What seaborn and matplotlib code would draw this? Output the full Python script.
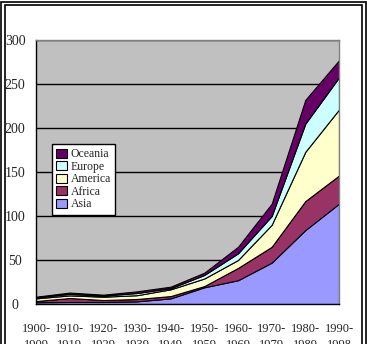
import matplotlib
matplotlib.use("Agg")
import matplotlib.pyplot as plt
import seaborn as sns
import numpy as np
import pandas as pd
from matplotlib.patches import Rectangle, Patch

decades = ["1900-\n1909", "1910-\n1919", "1920-\n1929", "1930-\n1939", "1940-\n1949",
           "1950-\n1959", "1960-\n1969", "1970-\n1979", "1980-\n1989", "1990-\n1998"]
asia = [2, 2.3, 2.3, 3, 6.4, 19, 27, 47, 84, 114]
africa = [1.4, 4.5, 2.2, 2.7, 2.6, 1.4, 14, 18, 33, 32]
america = [3, 3, 3.8, 4.3, 7.7, 8.6, 9, 25, 56, 75]
europe = [1.2, 1.7, 1.2, 2.5, 1.3, 4, 7.6, 10, 32, 36.5]
oceania = [0.7, 1.5, 1.1, 1.9, 1.7, 2.6, 7.4, 14, 27, 19.5]
regions = ["Asia", "Africa", "America", "Europe", "Oceania"]
colors = ["#9999FF", "#993366", "#FFFFCC", "#CCFFFF", "#660066"]
yticks = [0, 50, 100, 150, 200, 250, 300]

df = pd.DataFrame({"decade": decades, "Asia": asia, "Africa": africa,
                   "America": america, "Europe": europe, "Oceania": oceania})

sns.set_theme(style="white")
plt.rcParams["font.family"] = ["Liberation Serif", "DejaVu Serif"]

fig = plt.figure(figsize=(3.67, 3.44), dpi=100)
ax = fig.add_axes([36/367, 40/344, 303/367, 264/344])
ax.set_facecolor("#C0C0C0")

x = np.arange(len(decades))
ys = [df[r].values for r in regions]
ax.stackplot(x, *ys, colors=colors, edgecolor="black", linewidth=0.8, zorder=2)

ax.set_xlim(0, len(decades) - 1)
ax.set_ylim(0, 300)
ax.set_yticks(yticks)
ax.set_yticklabels([str(v) for v in yticks], fontsize=10)
for t in ax.get_yticklabels():
    t.set_ha("center")
ax.tick_params(axis="y", length=0, pad=15)
ax.set_xticks(x)
ax.set_xticklabels(decades, fontsize=9, linespacing=1.45)
ax.tick_params(axis="x", direction="in", length=3, width=0.8, color="black", pad=14)

ax.set_axisbelow(True)
ax.yaxis.grid(True, color="black", linewidth=1)
ax.xaxis.grid(False)
for s in ["left", "bottom"]:
    ax.spines[s].set_color("black")
    ax.spines[s].set_linewidth(1)
for s in ["top", "right"]:
    ax.spines[s].set_color("#808080")
    ax.spines[s].set_linewidth(1)

handles = [Patch(facecolor=c, edgecolor="black", linewidth=0.8, label=r)
           for r, c in zip(regions, colors)][::-1]
leg = ax.legend(handles=handles, loc="upper left", bbox_to_anchor=((52-36)/303, (304-144)/264),
                fontsize=8.5, frameon=True, fancybox=False, borderpad=0.35,
                handlelength=0.9, handleheight=0.8, handletextpad=0.35, labelspacing=0.05,
                borderaxespad=0)
leg.get_frame().set_edgecolor("black")
leg.get_frame().set_linewidth(1)
leg.get_frame().set_facecolor("white")
leg.get_frame().set_alpha(1)

W, H = 367, 344
fig.patches.append(Rectangle((1.5/W, -0.1), (366-1.5)/W, 1 - 1.5/H + 0.1, transform=fig.transFigure,
                             fill=False, edgecolor="black", linewidth=1.2))
fig.patches.append(Rectangle((4.5/W, -0.1), (362-4.5)/W, 1 - 4.5/H + 0.1, transform=fig.transFigure,
                             fill=False, edgecolor="black", linewidth=1.2))

fig.savefig("out.png", dpi=100)
